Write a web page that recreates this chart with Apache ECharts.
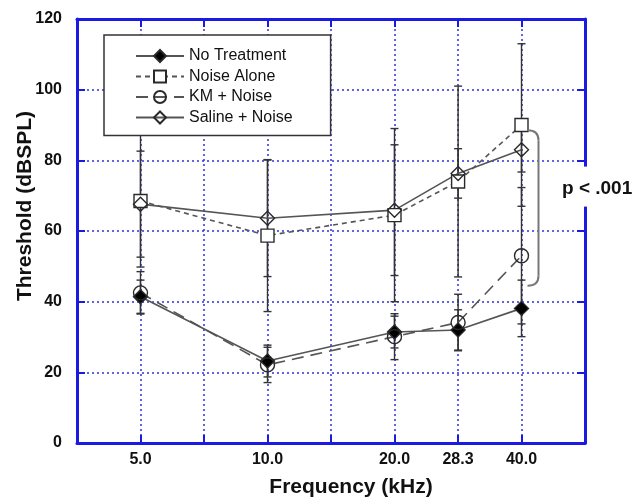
<!DOCTYPE html>
<html>
<head>
<meta charset="utf-8">
<script src="https://cdn.jsdelivr.net/npm/echarts@6/dist/echarts.min.js"></script>
<style>
  html, body { margin: 0; padding: 0; background: #fff; }
  #chart { width: 641px; height: 501px; }
</style>
</head>
<body>
<div id="chart"></div>
<script>
// ---- Data ----
const freqLabels = ['5.0', '10.0', '20.0', '28.3', '40.0'];
const freqs = [5.0, 10.0, 20.0, 28.3, 40.0];
const noTreatment    = [41.4, 23.2, 31.4, 32.0, 38.1];
const noTreatmentErr = [4.7, 4.5, 4.5, 5.7, 8.0];
const noiseAlone     = [68.5, 58.7, 64.5, 74.0, 90.0];
const noiseAloneErr  = [18.7, 21.5, 24.5, 27.0, 23.0];
const kmNoise        = [42.5, 22.1, 30.1, 34.1, 53.0];
const kmNoiseErr     = [6.0, 5.0, 6.5, 8.0, 19.3];
const salineNoise    = [67.6, 63.6, 65.9, 76.3, 83.0];
const salineNoiseErr = [15.0, 16.5, 18.5, 7.0, 6.3];
const yTicks = [0, 20, 40, 60, 80, 100, 120];

// half-octave position scale (5 kHz -> 1, 10 kHz -> 3, ...)
const pos = f => 2 * Math.log2(f / 5) + 1;
const xPos = freqs.map(pos);

const AXIS = '#1a1ae0';
const GRID = '#3030e0';
const LINE = '#555555';
const MARK = '#2a2a2a';

function pts(vals) { return vals.map((v, i) => [xPos[i], v]); }
function errPts(vals, errs) { return vals.map((v, i) => [xPos[i], v, errs[i]]); }

function errRender(params, api) {
  const x = api.value(0), y = api.value(1), e = api.value(2);
  const hi = api.coord([x, y + e]);
  const lo = api.coord([x, y - e]);
  const w = 4;
  const st = { stroke: '#333', lineWidth: 1.4 };
  return {
    type: 'group',
    children: [
      { type: 'line', shape: { x1: hi[0], y1: hi[1], x2: lo[0], y2: lo[1] }, style: st },
      { type: 'line', shape: { x1: hi[0] - w, y1: hi[1], x2: hi[0] + w, y2: hi[1] }, style: st },
      { type: 'line', shape: { x1: lo[0] - w, y1: lo[1], x2: lo[0] + w, y2: lo[1] }, style: st }
    ]
  };
}

const lineBase = (name, data, symbol, size, fill, dash) => ({
  name, type: 'line', data: pts(data),
  symbol, symbolSize: size,
  itemStyle: { color: fill, borderColor: MARK, borderWidth: 1.4 },
  lineStyle: { color: LINE, width: 1.6, type: dash },
  emphasis: { disabled: true },
  z: 5
});

const chart = echarts.init(document.getElementById('chart'), null, { renderer: 'canvas' });

const series = [
  { type: 'custom', renderItem: errRender, data: errPts(noiseAlone, noiseAloneErr), z: 3, silent: true },
  { type: 'custom', renderItem: errRender, data: errPts(salineNoise, salineNoiseErr), z: 3, silent: true },
  { type: 'custom', renderItem: errRender, data: errPts(kmNoise, kmNoiseErr), z: 3, silent: true },
  { type: 'custom', renderItem: errRender, data: errPts(noTreatment, noTreatmentErr), z: 3, silent: true },
  lineBase('No Treatment', noTreatment, 'diamond', 14, '#000', 'solid'),
  lineBase('Noise Alone', noiseAlone, 'rect', 13, '#fff', [5, 4]),
  lineBase('KM + Noise', kmNoise, 'circle', 14, 'rgba(255,255,255,0)', [12, 7]),
  lineBase('Saline + Noise', salineNoise, 'diamond', 14, 'rgba(255,255,255,0)', 'solid')
];

const labelFont = { fontFamily: 'Arial, "Liberation Sans", sans-serif', fontWeight: 'bold', fontSize: 16, color: '#111' };

chart.setOption({
  animation: false,
  backgroundColor: '#fff',
  grid: { left: 77, right: 56, top: 19, bottom: 58, outerBoundsMode: 'none', containLabel: false },
  legend: {
    orient: 'vertical',
    left: 104, top: 35,
    padding: [13, 38, 10, 31],
    itemGap: 4.5,
    itemWidth: 48, itemHeight: 15,
    backgroundColor: '#fff',
    borderColor: '#333', borderWidth: 1.5,
    textStyle: { fontFamily: 'Arial, "Liberation Sans", sans-serif', fontSize: 16, color: '#111' },
    data: ['No Treatment', 'Noise Alone', 'KM + Noise', 'Saline + Noise'],
    z: 10
  },
  xAxis: [{
    type: 'value', min: 0, max: 8, interval: 1,
    name: 'Frequency (kHz)', nameLocation: 'middle', nameGap: 34, nameMoveOverlap: false,
    nameTextStyle: Object.assign({}, labelFont, { fontSize: 21, padding: [0, 0, 0, 40] }),
    axisLine: { show: true, onZero: false, lineStyle: { color: AXIS, width: 3 } },
    axisTick: { show: true, inside: true, length: 8, lineStyle: { color: AXIS, width: 2 } },
    axisLabel: Object.assign({}, labelFont, {
      margin: 9,
      formatter: v => { const i = xPos.findIndex(p => Math.abs(p - v) < 0.05); return i >= 0 ? freqLabels[i] : ''; }
    }),
    splitLine: { show: true, lineStyle: { color: GRID, width: 1.5, type: [2, 3] } }
  }, {
    type: 'value', min: 0, max: 8, interval: 1, position: 'top',
    axisLine: { show: true, onZero: false, lineStyle: { color: AXIS, width: 3 } },
    axisTick: { show: true, inside: true, length: 8, lineStyle: { color: AXIS, width: 2 } },
    axisLabel: { show: false }, splitLine: { show: false }
  }],
  yAxis: [{
    type: 'value', min: yTicks[0], max: yTicks[yTicks.length - 1], interval: 20,
    name: 'Threshold (dBSPL)', nameLocation: 'middle', nameGap: 41, nameMoveOverlap: false,
    nameTextStyle: Object.assign({}, labelFont, { fontSize: 21, padding: [0, 0, 0, 50] }),
    axisLine: { show: true, onZero: false, lineStyle: { color: AXIS, width: 3 } },
    axisTick: { show: true, inside: true, length: 8, lineStyle: { color: AXIS, width: 2 } },
    axisLabel: Object.assign({}, labelFont, { margin: 15 }),
    splitLine: { show: true, lineStyle: { color: GRID, width: 1.5, type: [2, 3] } }
  }, {
    type: 'value', min: yTicks[0], max: yTicks[yTicks.length - 1], interval: 20, position: 'right',
    axisLine: { show: true, onZero: false, lineStyle: { color: AXIS, width: 3 } },
    axisTick: { show: true, inside: true, length: 8, lineStyle: { color: AXIS, width: 2 } },
    axisLabel: { show: false }, splitLine: { show: false }
  }],
  series: series
});

// ---- annotation: bracket and p value ----
const c = (x, y) => chart.convertToPixel({ xAxisIndex: 0, yAxisIndex: 0 }, [x, y]);
const brTop = c(xPos[4], 88.5);
const brBot = c(xPos[4], 44.5);
const bx0 = brTop[0] + 6, bx1 = brTop[0] + 17, br = 10;
const pPos = c(xPos[4], 72);
const rightX = chart.convertToPixel({ xAxisIndex: 0 }, 8);
const brStyle = { fill: null, stroke: '#777', lineWidth: 2 };

chart.setOption({
  graphic: [
    { type: 'bezierCurve', shape: { x1: bx0, y1: brTop[1], cpx1: bx1, cpy1: brTop[1], x2: bx1, y2: brTop[1] + br }, style: brStyle, z: 20 },
    { type: 'line', shape: { x1: bx1, y1: brTop[1] + br, x2: bx1, y2: brBot[1] - br }, style: brStyle, z: 20 },
    { type: 'bezierCurve', shape: { x1: bx1, y1: brBot[1] - br, cpx1: bx1, cpy1: brBot[1], x2: bx0, y2: brBot[1] }, style: brStyle, z: 20 },
    { type: 'rect', shape: { x: rightX - 6, y: pPos[1] - 22, width: 14, height: 40 }, style: { fill: '#fff' }, z: 20 },
    { type: 'text', x: rightX - 23, y: pPos[1],
      style: { text: 'p < .001', fill: '#111', font: 'bold 19px Arial, "Liberation Sans", sans-serif', verticalAlign: 'middle', align: 'left' }, z: 21 }
  ]
});
</script>
</body>
</html>
